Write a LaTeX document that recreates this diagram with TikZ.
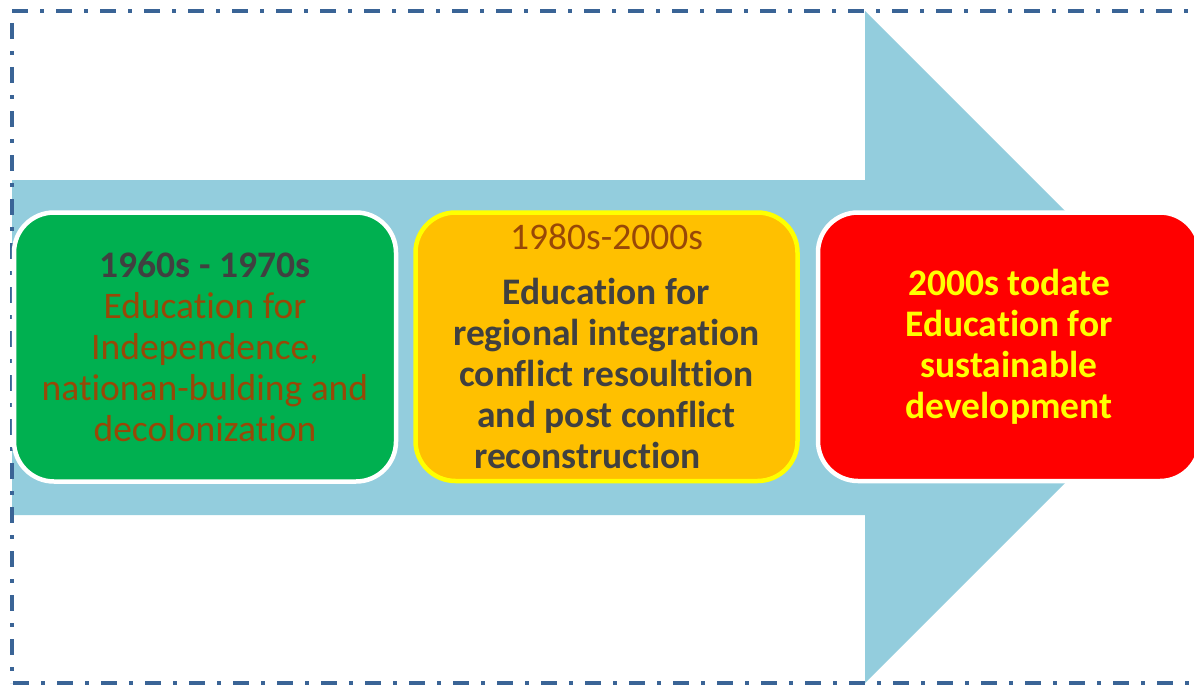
\documentclass[tikz,border=0pt]{standalone}
\usepackage{fontspec}
\setmainfont[Ligatures=NoCommon]{Carlito}
\definecolor{arrowblue}{HTML}{93CDDD}
\definecolor{framecol}{HTML}{3A6496}
\definecolor{boxgreen}{HTML}{00B050}
\definecolor{boxorange}{HTML}{FFC000}
\definecolor{boxred}{HTML}{FF0000}
\definecolor{boxyellow}{HTML}{FFFF00}
\definecolor{txtgray}{HTML}{404040}
\definecolor{txtbrown}{HTML}{984807}
\tikzset{
  erabox/.style={rounded corners=40pt, line width=4.5pt, align=center,
    inner sep=0pt, font=\fontsize{37.5}{41}\selectfont},
  frameline/.style={framecol, line width=3.5pt, dash pattern=on 16pt off 12pt on 4pt off 12pt}
}
\begin{document}
\begin{tikzpicture}[x=1pt,y=-1pt]
\useasboundingbox (0,0) rectangle (1194,685);
% big arrow
\fill[arrowblue] (12,180) -- (865,180) -- (865,11) -- (1201,347) -- (865,683) -- (865,515) -- (12,515) -- cycle;
% frame
\draw[frameline] (12,11) -- (1194,11);
\draw[frameline] (12,23) -- (12,683);
\draw[frameline] (13,683) -- (1194,683);
% boxes
\node[erabox, draw=white, fill=boxgreen, minimum width=382pt, minimum height=269pt, text=txtbrown] (b1) at (205,347)
  {{\bfseries\color{txtgray}1960s - 1970s}\\Education for\\Independence,\\nationan-bulding and\\decolonization};
\node[erabox, draw=boxyellow, fill=boxorange, minimum width=382pt, minimum height=268.5pt, text=txtgray] (b2) at (606.5,346.75)
  {{\color{txtbrown}1980s-2000s}\\[14pt]\bfseries Education for\\\bfseries regional integration\\\bfseries conflict resoulttion\\\bfseries and post conflict\\\bfseries reconstruction\hspace*{38pt}};
\node[erabox, draw=white, fill=boxred, minimum width=382pt, minimum height=268.5pt, text=boxyellow] (b3) at (1009,346.75)
  {\bfseries 2000s todate\\\bfseries Education for\\\bfseries sustainable\\\bfseries development};
\end{tikzpicture}
\end{document}
